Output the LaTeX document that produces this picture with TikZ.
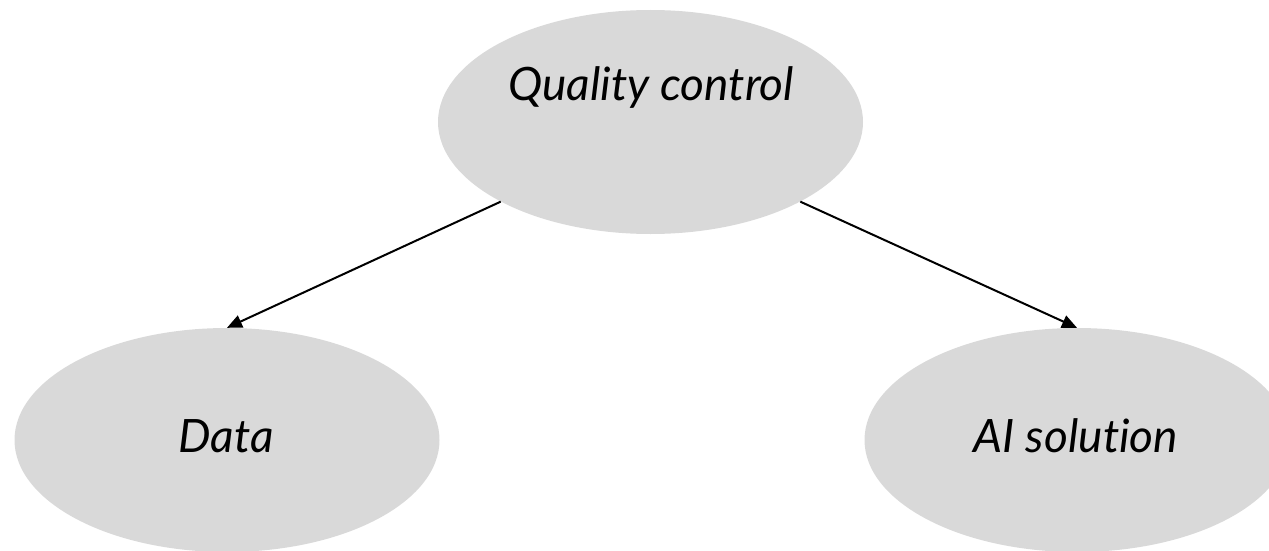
\documentclass[tikz,border=0pt]{standalone}
\usepackage{fontspec}
\setmainfont[Ligatures=NoCommon]{Lato}
\usetikzlibrary{shapes.geometric,arrows.meta}
\definecolor{ellgray}{RGB}{217,217,217}
\tikzset{
  ell/.style={ellipse, fill=ellgray, draw=none, minimum width=425pt, minimum height=224pt, inner sep=0pt},
  txt/.style={anchor=base, inner sep=0pt, font=\fontsize{46}{54}\selectfont\itshape},
  conn/.style={draw=black, line width=2pt, -{Triangle[length=15pt,width=13pt]}}
}
\begin{document}
\begin{tikzpicture}[x=1pt,y=-1pt]
\useasboundingbox (0,0) rectangle (1269,551);
\clip (0,0) rectangle (1269,551);
\node[ell] (q) at (650.5,122) {};
\node[ell] (data) at (227,440) {};
\node[ell] (ai) at (1077,440) {};
\node[txt] (qt) at (651,100) {Quality control};
\node[txt] (dt) at (226,452) {Data};
\node[txt] (at) at (1076,452) {AI solution};
\draw[conn] (q.208) -- (data.north);
\draw[conn] (q.332) -- (ai.north);
\end{tikzpicture}
\end{document}
